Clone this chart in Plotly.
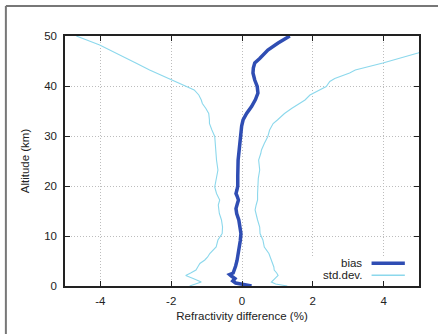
import plotly.graph_objects as go

# ---- data ----
bias_alt = [0.0, 0.3, 0.6, 1.0, 1.5, 2.0, 2.3, 2.6, 3.1, 4.0, 5.1, 6.5, 7.8, 9.0, 10.5, 11.8,
            13.2, 14.5, 15.5, 16.5, 17.2, 18.0, 18.5, 19.3, 20.0, 22.0, 23.8, 25.2, 27.2, 29.0,
            30.5, 32.0, 33.2, 34.5, 35.9, 37.3, 38.6, 39.9, 41.2, 42.6, 43.6, 44.6, 45.5, 46.3,
            47.2, 48.6, 50.0]
bias_val = [0.27, 0.0, -0.18, -0.26, -0.20, -0.30, -0.35, -0.25, -0.22, -0.18, -0.14, -0.10,
            -0.08, -0.05, -0.03, -0.05, -0.09, -0.15, -0.17, -0.13, -0.10, -0.14, -0.17, -0.14,
            -0.12, -0.12, -0.12, -0.11, -0.08, -0.05, -0.04, -0.01, 0.03, 0.13, 0.27, 0.38,
            0.45, 0.43, 0.36, 0.31, 0.32, 0.36, 0.50, 0.62, 0.73, 1.02, 1.35]

std_alt = [0.0, 0.4, 0.8, 1.5, 2.1, 2.6, 3.2, 3.8, 4.5, 5.2, 5.8, 6.5, 7.8, 9.2, 10.5, 11.8,
           13.2, 14.5, 15.2, 16.2, 17.2, 18.5, 19.8, 21.5, 23.2, 25.2, 26.5, 27.2, 28.5, 29.9,
           31.2, 32.5, 33.2, 33.9, 34.5, 35.5, 36.5, 37.2, 38.2, 39.2, 39.9, 40.9, 41.5, 42.6,
           43.2, 44.6, 45.9, 46.6, 48.2, 50.0]
std_neg = [-1.48, -1.30, -1.15, -1.38, -1.59, -1.45, -1.30, -1.25, -1.19, -1.05, -0.97, -0.91,
           -0.73, -0.68, -0.56, -0.55, -0.58, -0.64, -0.66, -0.67, -0.63, -0.72, -0.77, -0.72,
           -0.68, -0.72, -0.73, -0.73, -0.74, -0.77, -0.85, -0.92, -0.92, -0.93, -0.94, -1.02,
           -1.12, -1.15, -1.22, -1.35, -1.57, -1.90, -2.04, -2.40, -2.61, -3.00, -3.36, -3.60,
           -4.02, -4.68]
std_pos = [1.28, 0.95, 0.83, 0.95, 1.02, 0.98, 0.91, 0.90, 0.86, 0.82, 0.80, 0.76, 0.63, 0.59,
           0.51, 0.50, 0.44, 0.40, 0.37, 0.40, 0.44, 0.44, 0.44, 0.46, 0.50, 0.47, 0.53, 0.55,
           0.63, 0.73, 0.78, 0.88, 1.00, 1.10, 1.20, 1.40, 1.63, 1.78, 1.92, 2.20, 2.38, 2.48,
           2.62, 3.04, 3.20, 3.98, 4.60, 4.97, 5.60, 6.30]

x_ticks = [-4, -2, 0, 2, 4]
y_ticks = [0, 10, 20, 30, 40, 50]

bias_color = "#2f4db3"
std_color = "#8cd8ec"
FONT = "Liberation Sans, Arial"

fig = go.Figure()
fig.add_trace(go.Scatter(x=bias_val, y=bias_alt, mode="lines",
                         line=dict(color=bias_color, width=3.5), name="bias", showlegend=False))
fig.add_trace(go.Scatter(x=std_neg, y=std_alt, mode="lines",
                         line=dict(color=std_color, width=1.1), name="std.dev.", showlegend=False))
fig.add_trace(go.Scatter(x=std_pos, y=std_alt, mode="lines",
                         line=dict(color=std_color, width=1.1), showlegend=False))

axis_common = dict(showline=True, linecolor="#222", linewidth=1.5, mirror="ticks",
                   ticks="inside", ticklen=5, tickwidth=1.2, tickcolor="#222",
                   showgrid=True, gridcolor="#bdbdbd", griddash="1px,2px", gridwidth=1,
                   zeroline=False, automargin=False,
                   tickfont=dict(family=FONT, size=11.5, color="#222"))

fig.update_xaxes(range=[-5, 5], tickvals=x_ticks, ticktext=[str(v) for v in x_ticks],
                 ticklabelstandoff=3,
                 title=dict(text="Refractivity difference (%)",
                            font=dict(family=FONT, size=11.5, color="#222"),
                            standoff=6), **axis_common)
fig.update_yaxes(range=[0, 50], tickvals=y_ticks, ticklabelstandoff=4,
                 title=dict(text="Altitude (km)",
                            font=dict(family=FONT, size=11.5, color="#222"),
                            standoff=12), **axis_common)

shapes = [
    # white key box hiding grid lines
    dict(type="rect", xref="x", yref="y", x0=1.5, x1=4.95, y0=0.05, y1=5.8,
         fillcolor="white", line=dict(width=0), layer="between"),
    # key samples
    dict(type="line", xref="x", yref="y", x0=3.66, x1=4.6, y0=4.55, y1=4.55,
         line=dict(color=bias_color, width=3.5)),
    dict(type="line", xref="x", yref="y", x0=3.66, x1=4.6, y0=2.14, y1=2.14,
         line=dict(color=std_color, width=1.5)),
    # outer frame (left and top)
    dict(type="line", xref="paper", yref="paper", x0=-0.167, x1=-0.167, y0=1.12, y1=-0.3,
         line=dict(color="#777", width=2)),
    dict(type="line", xref="paper", yref="paper", x0=-0.167, x1=1.2, y0=1.12, y1=1.12,
         line=dict(color="#777", width=2)),
]

annotations = [
    dict(text="bias", xref="x", yref="y", x=3.44, y=4.55, xanchor="right", yanchor="middle",
         showarrow=False, font=dict(family=FONT, size=11.5, color="#222")),
    dict(text="std.dev.", xref="x", yref="y", x=3.44, y=2.14, xanchor="right", yanchor="middle",
         showarrow=False, font=dict(family=FONT, size=11.5, color="#222")),
]

fig.update_layout(width=438, height=334, margin=dict(l=65, r=19, t=36, b=48, autoexpand=False),
                  paper_bgcolor="white", plot_bgcolor="white",
                  shapes=shapes, annotations=annotations, showlegend=False)

fig.write_html("out.html", config={"displayModeBar": False},
               post_script="document.body.style.margin='0';document.body.style.overflow='hidden';")
